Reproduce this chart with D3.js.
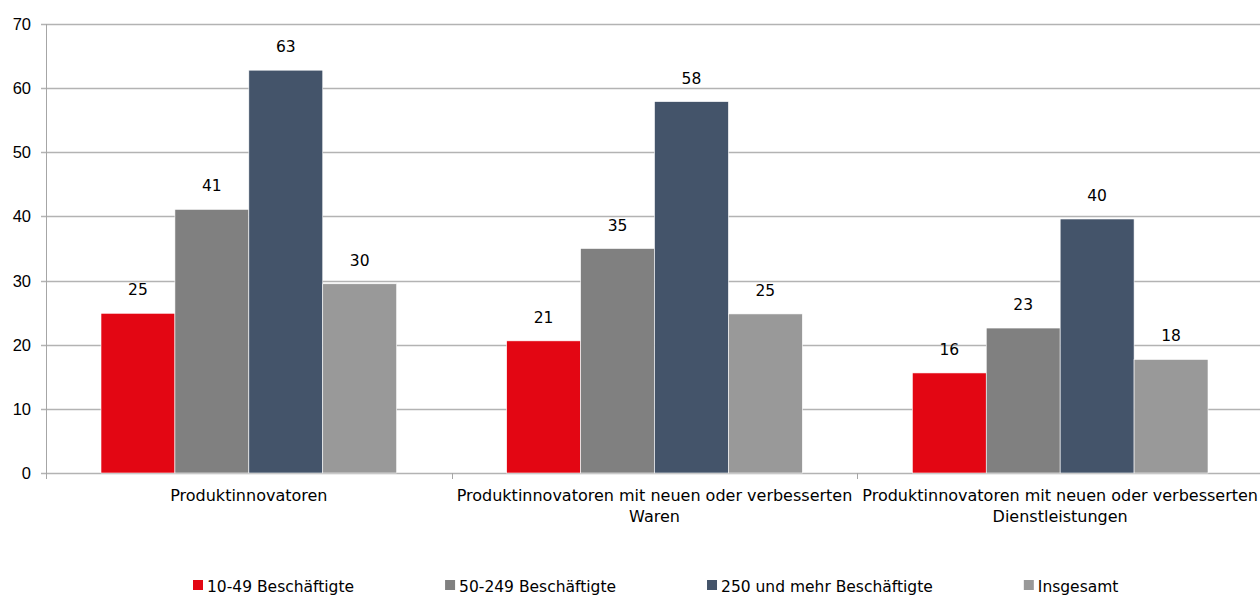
<!DOCTYPE html>
<html>
<head>
<meta charset="utf-8">
<script src="https://cdn.jsdelivr.net/npm/d3@7"></script>
<style>
  body { margin: 0; background: #fff; }
  text { font-family: "DejaVu Sans", sans-serif; fill: #000; }
</style>
</head>
<body>
<svg id="chart" width="1260" height="596"></svg>
<script>
var categories = [
    ["Produktinnovatoren"],
    ["Produktinnovatoren mit neuen oder verbesserten", "Waren"],
    ["Produktinnovatoren mit neuen oder verbesserten", "Dienstleistungen"]
];
var seriesNames = ["10-49 Beschäftigte", "50-249 Beschäftigte", "250 und mehr Beschäftigte", "Insgesamt"];
var seriesColors = ["#e30613", "#808080", "#44546a", "#999999"];
// values per category, in series order
var small  = [24.9, 20.6, 15.6];
var medium = [41.1, 35.0, 22.6];
var large  = [62.8, 57.9, 39.6];
var total  = [29.5, 24.8, 17.7];
var yTicks = [0, 10, 20, 30, 40, 50, 60, 70];

var svg = d3.select("#chart"),
    plotLeft = 46, plotRight = 1263, plotTop = 24, plotBottom = 473;

var series = [small, medium, large, total];

var x0 = d3.scaleBand()
    .domain(d3.range(categories.length))
    .range([plotLeft, plotRight]);

var x1 = d3.scaleBand()
    .domain(d3.range(series.length))
    .range([55, x0.bandwidth() - 55]);

var y = d3.scaleLinear()
    .domain([0, 70])
    .range([plotBottom, plotTop]);

// gridlines
svg.append("g")
    .selectAll("line")
    .data(yTicks)
    .enter().append("line")
    .attr("x1", plotLeft - 5)
    .attr("x2", 1260)
    .attr("y1", function(d) { return Math.round(y(d)) + 0.5; })
    .attr("y2", function(d) { return Math.round(y(d)) + 0.5; })
    .style("stroke", "#b3b3b3")
    .style("stroke-width", 1.3);

// y axis line
svg.append("line")
    .attr("x1", plotLeft + 0.5).attr("x2", plotLeft + 0.5)
    .attr("y1", plotTop).attr("y2", plotBottom + 6)
    .style("stroke", "#a6a6a6");

svg.append("g")
    .selectAll("text")
    .data(yTicks)
    .enter().append("text")
    .attr("x", 31)
    .attr("y", function(d) { return y(d) + 6; })
    .attr("text-anchor", "end")
    .style("font-family", "'Liberation Sans', sans-serif")
    .style("font-size", "16.5px")
    .text(function(d) { return d; });

// category ticks
svg.append("g")
    .selectAll("line")
    .data(d3.range(categories.length + 1))
    .enter().append("line")
    .attr("x1", function(i) { return Math.round(plotLeft + i * x0.bandwidth()) + 0.5; })
    .attr("x2", function(i) { return Math.round(plotLeft + i * x0.bandwidth()) + 0.5; })
    .attr("y1", plotBottom)
    .attr("y2", plotBottom + 6)
    .style("stroke", "#a6a6a6");

// bars
var groups = svg.append("g")
    .selectAll("g")
    .data(categories)
    .enter().append("g")
    .attr("transform", function(d, i) { return "translate(" + x0(i) + ",0)"; });

groups.each(function(cat, ci) {
    var g = d3.select(this);
    series.forEach(function(s, si) {
        g.append("rect")
            .attr("x", x1(si))
            .attr("y", y(s[ci]))
            .attr("width", x1.bandwidth())
            .attr("height", plotBottom - y(s[ci]))
            .style("fill", seriesColors[si])
            .style("stroke", "#ffffff")
            .style("stroke-width", 0.6);

        g.append("text")
            .attr("x", x1(si) + x1.bandwidth() / 2)
            .attr("y", y(s[ci]) - 18)
            .attr("text-anchor", "middle")
            .style("font-size", "15.5px")
            .text(Math.round(s[ci]));
    });

    var label = g.append("text")
        .attr("text-anchor", "middle")
        .style("font-size", "16px");
    cat.forEach(function(line, li) {
        label.append("tspan")
            .attr("x", x0.bandwidth() / 2)
            .attr("y", 501 + li * 21)
            .text(line);
    });
});

// legend
var legend = svg.append("g").attr("class", "legend");
var lx = 193;
seriesNames.forEach(function(name, i) {
    legend.append("rect")
        .attr("x", lx)
        .attr("y", 580)
        .attr("width", 10)
        .attr("height", 10)
        .style("fill", seriesColors[i]);
    var t = legend.append("text")
        .attr("x", lx + 14)
        .attr("y", 592)
        .style("font-size", "15.5px")
        .text(name);
    lx += 14 + t.node().getComputedTextLength() + 91;
});
</script>
</body>
</html>
